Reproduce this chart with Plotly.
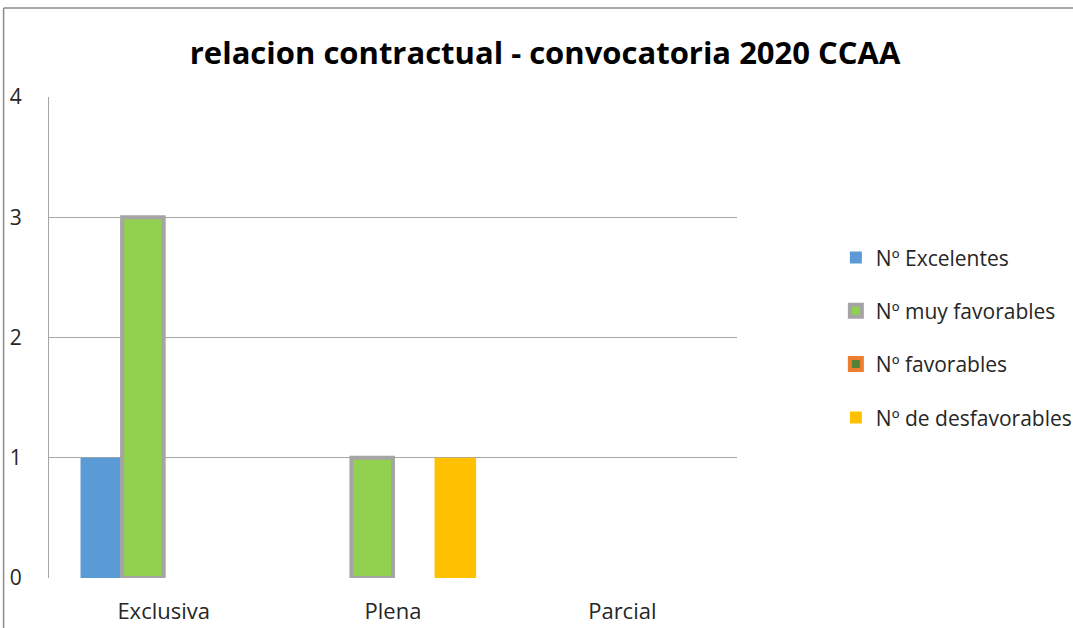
import plotly.graph_objects as go

categories = ["Exclusiva", "Plena", "Parcial"]
excelentes = [1, 0, 0]
muy_favorables = [3, 1, 0]
favorables = [0, 0, 0]
desfavorables = [0, 1, 0]
y_ticks = [0, 1, 2, 3, 4]

FONT = "Open Sans"


def nz(vals):
    # zero-height bars are not drawn in the original chart
    return [v if v != 0 else None for v in vals]


fig = go.Figure()
fig.add_trace(go.Bar(name="Nº Excelentes", x=categories, y=nz(excelentes),
                     marker=dict(color="#5b9bd5", line=dict(width=0)),
                     legendgroup="a"))
fig.add_trace(go.Bar(name="Nº muy favorables", x=categories, y=nz(muy_favorables),
                     marker=dict(color="#92d050", line=dict(color="#a5a5a5", width=4)),
                     legendgroup="b"))
fig.add_trace(go.Bar(name="Nº favorables", x=categories, y=nz(favorables),
                     marker=dict(color="#548235", line=dict(color="#ed7d31", width=4)),
                     legendgroup="c"))
fig.add_trace(go.Bar(name="Nº de desfavorables", x=categories, y=nz(desfavorables),
                     marker=dict(color="#ffc000", line=dict(width=0)),
                     legendgroup="d"))

fig.update_layout(
    width=1073, height=628,
    margin=dict(l=49, r=336, t=97, b=50, autoexpand=False),
    paper_bgcolor="white", plot_bgcolor="white",
    barmode="group", bargap=0.275, bargroupgap=0,
    font=dict(family=FONT, size=21, color="#262626"),
    title=dict(text="<b>relacion contractual - convocatoria 2020 CCAA</b>",
               x=0.508, xref="container", xanchor="center",
               y=0.9156, yref="container", yanchor="middle",
               font=dict(family=FONT, size=31, color="black")),
    legend=dict(xref="container", x=0.779, xanchor="left",
                yref="container", y=0.462, yanchor="middle",
                font=dict(family=FONT, size=21, color="#262626"),
                traceorder="grouped", tracegroupgap=23,
                bgcolor="rgba(0,0,0,0)"),
    showlegend=True,
)
fig.update_yaxes(range=[0, 4], tickvals=y_ticks, showgrid=True,
                 gridcolor="#a6a6a6", gridwidth=1,
                 showline=True, linecolor="#a6a6a6", linewidth=1,
                 ticks="", ticklabelstandoff=22, zeroline=False,
                 automargin=False, tickfont=dict(size=21))
fig.update_xaxes(showline=False, ticks="", ticklabelstandoff=18,
                 automargin=False, tickfont=dict(size=22))

# outer chart frame (top and left edges)
fig.add_shape(type="line", xref="paper", yref="paper",
              x0=-0.066, x1=1.6, y0=1.185, y1=1.185,
              line=dict(color="#8c8c8c", width=1.5))
fig.add_shape(type="line", xref="paper", yref="paper",
              x0=-0.066, x1=-0.066, y0=-0.2, y1=1.185,
              line=dict(color="#8c8c8c", width=1.5))

fig.write_html("out.html",
               config={"displayModeBar": False},
               post_script="document.body.style.margin='0';document.body.style.padding='0';")
